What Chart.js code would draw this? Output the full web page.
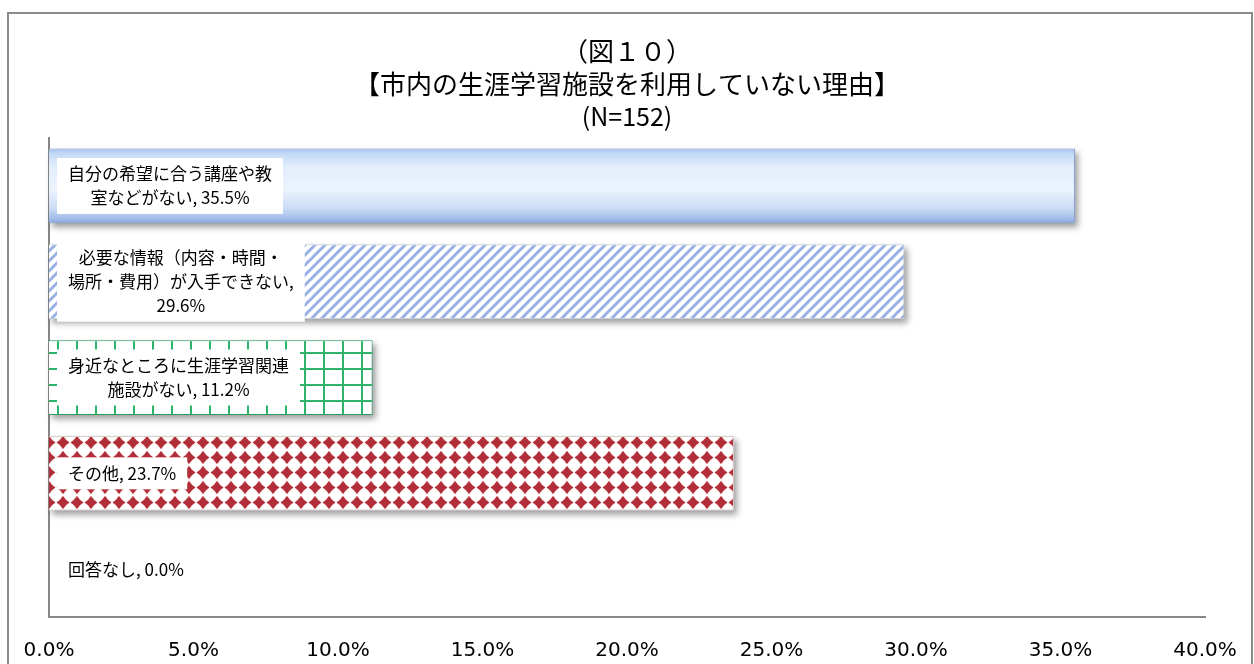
<!DOCTYPE html>
<html>
<head>
<meta charset="utf-8">
<script src="https://cdn.jsdelivr.net/npm/chart.js@4.4.0/dist/chart.umd.min.js"></script>
<style>
  html, body { margin: 0; padding: 0; background: #fff; }
  #wrap { width: 1254px; height: 664px; }
</style>
</head>
<body>
<div id="wrap"><canvas id="chart" width="1254" height="664"></canvas></div>
<script>
// Reasons for not using the city's lifelong-learning facilities (N=152)
const categories = [
  ['自分の希望に合う講座や教', '室などがない'],
  ['必要な情報（内容・時間・', '場所・費用）が入手できない'],
  ['身近なところに生涯学習関連', '施設がない'],
  ['その他'],
  ['回答なし']
];
const values = [35.5, 29.6, 11.2, 23.7, 0.0];
const tickValues = [0, 5, 10, 15, 20, 25, 30, 35, 40];
const titleLines = ['（図１０）', '【市内の生涯学習施設を利用していない理由】'];
const subtitleText = '(N=152)';

const CJK = '"Noto Sans CJK JP", "Noto Sans CJK SC", sans-serif';

// ---- fill patterns ----
function makeTile(w, h, paint) {
  const c = document.createElement('canvas');
  c.width = w; c.height = h;
  const g = c.getContext('2d');
  g.fillStyle = '#fff';
  g.fillRect(0, 0, w, h);
  paint(g, w, h);
  return document.createElement('canvas').getContext('2d').createPattern(c, 'repeat');
}

const stripePattern = makeTile(10, 10, (g, w, h) => {
  g.strokeStyle = '#98b0e6';
  g.lineWidth = 3;
  g.lineCap = 'square';
  for (let o = -10; o <= 20; o += 10) {
    g.beginPath();
    g.moveTo(o, h);
    g.lineTo(o + w, 0);
    g.stroke();
  }
});

const gridPattern = makeTile(19, 16, (g, w, h) => {
  g.fillStyle = '#2db36b';
  g.fillRect(0, 0, 2, h);
  g.fillRect(0, 0, w, 2);
});

const diamondPattern = makeTile(14, 15, (g, w, h) => {
  const cx = 7, cy = 7.5, r = 6.4, k = 2.3;
  g.beginPath();
  g.moveTo(cx, cy - r);
  g.quadraticCurveTo(cx + k, cy - k, cx + r, cy);
  g.quadraticCurveTo(cx + k, cy + k, cx, cy + r);
  g.quadraticCurveTo(cx - k, cy + k, cx - r, cy);
  g.quadraticCurveTo(cx - k, cy - k, cx, cy - r);
  g.closePath();
  g.fillStyle = '#b12e38';
  g.shadowColor = 'rgba(225,120,120,0.7)';
  g.shadowBlur = 1.5;
  g.fill();
});

function barBand(chart, index) {
  const area = chart.chartArea;
  const band = area.height / categories.length;
  const mid = area.top + band * (index + 0.5);
  const half = band * 0.78 / 2;
  return [mid - half, mid + half];
}

function blueGradient(chart, index) {
  const [top, bottom] = barBand(chart, index);
  const g = chart.ctx.createLinearGradient(0, top, 0, bottom);
  g.addColorStop(0.00, '#a4c0ee');
  g.addColorStop(0.07, '#c4daf7');
  g.addColorStop(0.25, '#e3eefc');
  g.addColorStop(0.55, '#ebf3fd');
  g.addColorStop(0.80, '#cadcf6');
  g.addColorStop(0.93, '#a5bfea');
  g.addColorStop(1.00, '#8ba7dc');
  return g;
}

const barFills = [null, stripePattern, gridPattern, diamondPattern, '#ffffff'];
const barBorders = ['#86a2d6', '#c9d0dd', '#2a9d5c', '#d8cccc', '#ffffff'];

// ---- plugins ----
const framePlugin = {
  id: 'frame',
  beforeDraw(chart) {
    const { ctx } = chart;
    ctx.save();
    ctx.fillStyle = '#fff';
    ctx.fillRect(0, 0, chart.width, chart.height);
    ctx.strokeStyle = '#8c8c8c';
    ctx.lineWidth = 2;
    ctx.strokeRect(8, 13, 1244, 700);
    ctx.restore();
  }
};

const barShadowPlugin = {
  id: 'barShadow',
  beforeDatasetsDraw(chart) {
    const { ctx } = chart;
    const meta = chart.getDatasetMeta(0);
    ctx.save();
    ctx.filter = 'blur(3px)';
    ctx.fillStyle = 'rgba(0,0,0,0.38)';
    meta.data.forEach(bar => {
      const left = Math.min(bar.base, bar.x);
      const w = Math.abs(bar.x - bar.base);
      if (w < 1) return;
      ctx.fillRect(left + 3, bar.y - bar.height / 2 + 4, w, bar.height);
    });
    ctx.restore();
  }
};

const labelBoxPlugin = {
  id: 'labelBoxes',
  afterDatasetsDraw(chart) {
    const { ctx } = chart;
    const meta = chart.getDatasetMeta(0);
    ctx.save();
    ctx.font = '17px ' + CJK;
    meta.data.forEach((bar, i) => {
      const lines = categories[i].slice();
      const valueText = values[i].toFixed(1) + '%';
      const last = lines.pop();
      const joined = last + ', ' + valueText;
      if (ctx.measureText(joined).width > 235) {
        lines.push(last + ',');
        lines.push(valueText);
      } else {
        lines.push(joined);
      }
      const textW = Math.max(...lines.map(l => ctx.measureText(l).width));
      const lh = 24;
      const w = textW + 22;
      const h = lines.length * lh + 8;
      const left = Math.min(bar.base, bar.x) + 8;
      const top = bar.y - h / 2;
      ctx.fillStyle = '#fff';
      ctx.fillRect(left, top, w, h);
      ctx.fillStyle = '#000';
      ctx.textAlign = 'center';
      ctx.textBaseline = 'middle';
      lines.forEach((l, k) => ctx.fillText(l, left + w / 2, top + 4 + lh * (k + 0.5)));
    });
    ctx.restore();
  }
};

new Chart(document.getElementById('chart'), {
  type: 'bar',
  data: {
    labels: categories.map(c => c.join('')),
    datasets: [{
      data: values,
      backgroundColor: (c) => {
        if (c.type !== 'data') return '#fff';
        if (c.dataIndex === 0) {
          if (!c.chart.chartArea) return '#d6e6fa';
          return blueGradient(c.chart, 0);
        }
        return barFills[c.dataIndex];
      },
      borderColor: barBorders,
      borderWidth: 1,
      barPercentage: 0.78,
      categoryPercentage: 1.0
    }]
  },
  options: {
    indexAxis: 'y',
    responsive: false,
    devicePixelRatio: 1,
    animation: false,
    layout: { padding: { top: 23, left: 17, right: 17, bottom: 1 } },
    plugins: {
      legend: { display: false },
      tooltip: { enabled: false },
      title: {
        display: true,
        text: titleLines,
        color: '#000',
        font: { family: CJK, size: 26, weight: 'normal', lineHeight: 1.27 },
        padding: { top: 12, bottom: 0 }
      },
      subtitle: {
        display: true,
        text: subtitleText,
        color: '#000',
        font: { family: CJK, size: 25, weight: 'normal', lineHeight: 1.2 },
        padding: { top: 0, bottom: 7 }
      }
    },
    scales: {
      x: {
        min: 0,
        max: 40,
        grid: { display: false, drawTicks: false },
        border: { display: true, color: '#878787', width: 2 },
        afterBuildTicks(scale) { scale.ticks = tickValues.map(v => ({ value: v })); },
        afterFit(scale) {
          scale.height = 46;
          scale.paddingLeft = 0;
          scale.paddingRight = 49;
        },
        ticks: {
          autoSkip: false,
          maxRotation: 0,
          padding: 22,
          color: '#000',
          font: { family: '"DejaVu Sans", sans-serif', size: 20 },
          callback: (v) => Number(v).toFixed(1) + '%'
        }
      },
      y: {
        grid: { display: false, drawTicks: false },
        border: { display: true, color: '#878787', width: 2 },
        ticks: { display: false },
        afterFit(scale) { scale.width = 32; }
      }
    }
  },
  plugins: [framePlugin, barShadowPlugin, labelBoxPlugin]
});
</script>
</body>
</html>
